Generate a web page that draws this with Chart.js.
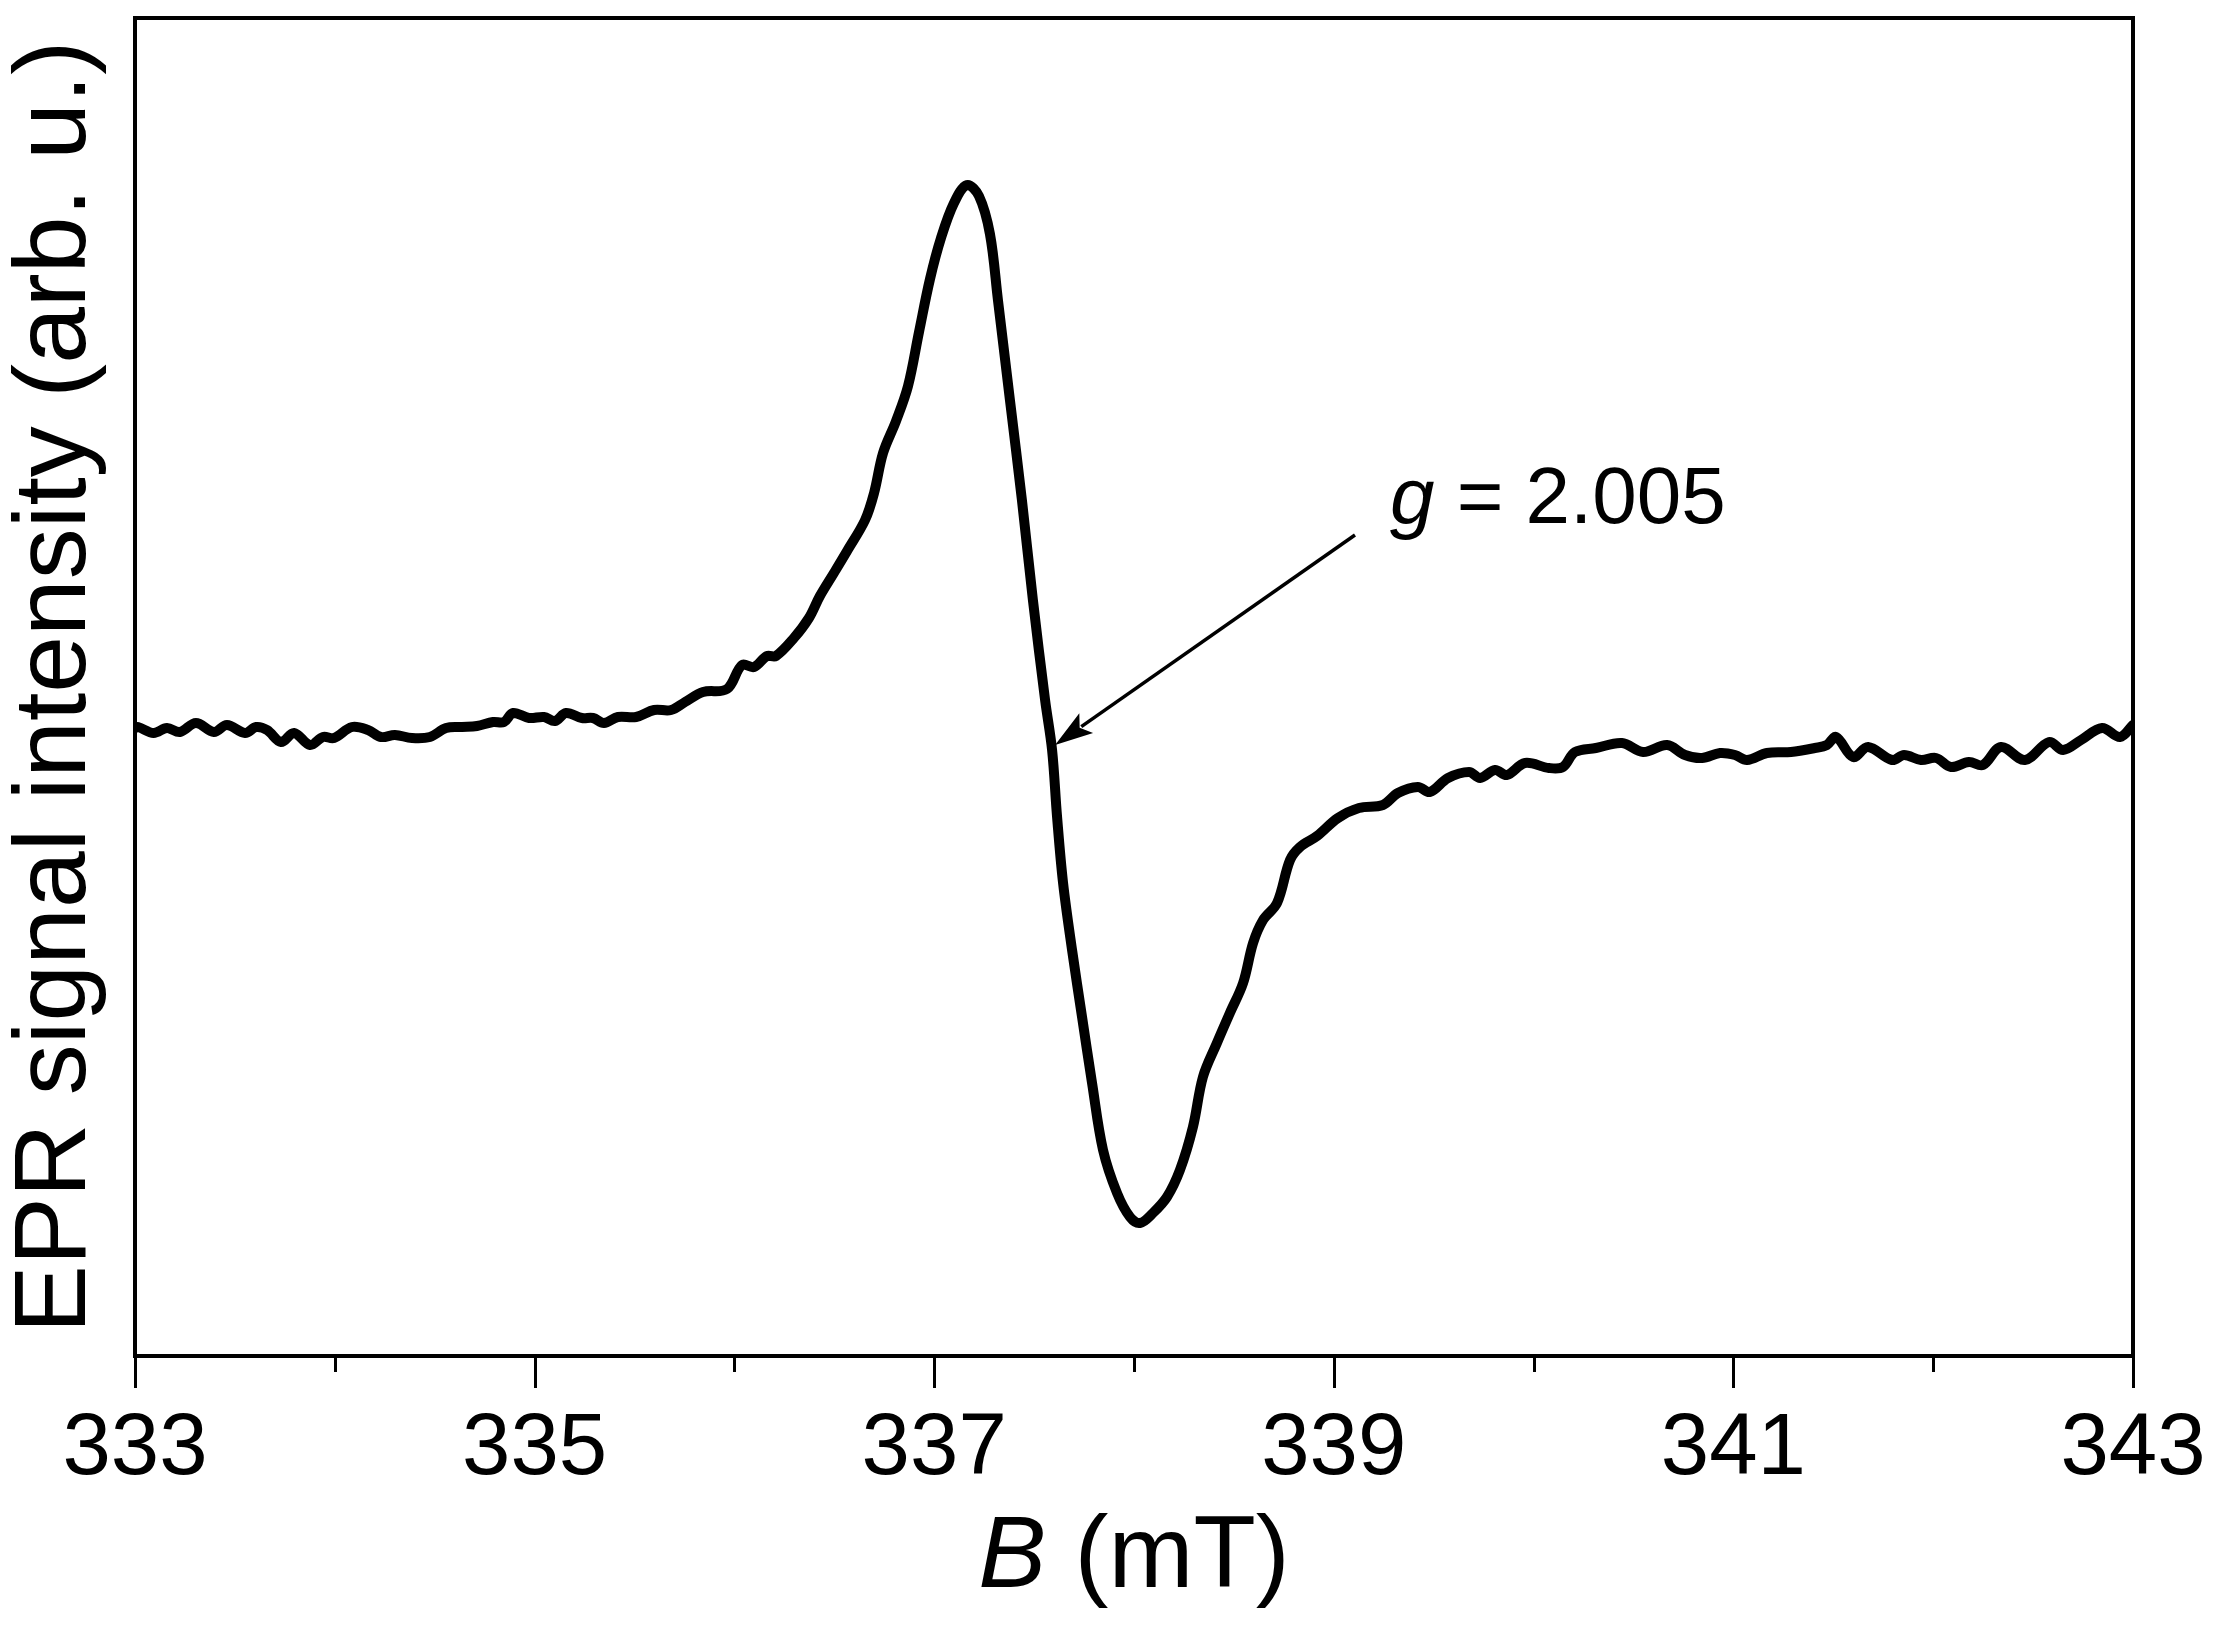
<!DOCTYPE html>
<html>
<head>
<meta charset="utf-8">
<script src="https://cdn.jsdelivr.net/npm/chart.js@4.4.1/dist/chart.umd.min.js"></script>
<style>
  html, body { margin: 0; padding: 0; background: #ffffff; }
  #wrap { width: 2228px; height: 1627px; }
  canvas { display: block; }
</style>
</head>
<body>
<div id="wrap"><canvas id="c" width="2228" height="1627" style="width:2228px;height:1627px"></canvas></div>
<script>
// ---- Data ----
const fieldB = [
  333.000, 333.015, 333.093, 333.160, 333.225, 333.305, 333.395, 333.460, 333.551, 333.606,
  333.661, 333.731, 333.796, 333.876, 333.941, 333.996, 334.086, 334.166, 334.231, 334.301,
  334.386, 334.476, 334.557, 334.637, 334.712, 334.792, 334.847, 334.892, 334.972, 335.047,
  335.102, 335.157, 335.237, 335.292, 335.347, 335.417, 335.508, 335.598, 335.683, 335.753,
  335.843, 335.963, 336.038, 336.098, 336.163, 336.208, 336.298, 336.373, 336.428, 336.498,
  336.564, 336.654, 336.699, 336.744, 336.809, 336.869, 336.924, 336.979, 337.034, 337.099,
  337.164, 337.224, 337.279, 337.319, 337.379, 337.439, 337.494, 337.555, 337.590, 337.615,
  337.645, 337.690, 337.740, 337.790, 337.845, 337.915, 337.980, 338.030, 338.095, 338.165,
  338.230, 338.295, 338.345, 338.415, 338.480, 338.546, 338.596, 338.646, 338.716, 338.781,
  338.831, 338.916, 339.021, 339.126, 339.246, 339.321, 339.421, 339.481, 339.572, 339.677,
  339.732, 339.807, 339.867, 339.957, 340.077, 340.147, 340.207, 340.312, 340.442, 340.548,
  340.668, 340.758, 340.843, 340.933, 341.008, 341.068, 341.168, 341.288, 341.408, 341.468,
  341.514, 341.599, 341.674, 341.794, 341.854, 341.939, 342.014, 342.089, 342.179, 342.249,
  342.339, 342.459, 342.580, 342.650, 342.740, 342.845, 342.935, 343.000
];
const intensity = [
  2, 3, -3, 2, -2, 7, -2, 5, -3, 3,
  0, -12, -3, -15, -7, -8, 3, 0, -7, -5,
  -8, -7, 2, 3, 4, 8, 8, 17, 12, 13,
  9, 17, 12, 12, 7, 13, 13, 20, 20, 28,
  38, 41, 65, 63, 74, 74, 92, 112, 134, 157,
  179, 210, 237, 277, 309, 344, 398, 451, 492, 527,
  545, 534, 496, 430, 330, 230, 130, 30, -20, -87,
  -153, -220, -287, -353, -420, -463, -487, -493, -483, -467,
  -440, -397, -347, -313, -283, -253, -213, -190, -173, -130,
  -117, -106, -88, -78, -75, -63, -57, -62, -48, -42,
  -48, -40, -45, -33, -38, -37, -22, -18, -13, -22,
  -15, -25, -28, -23, -25, -30, -23, -22, -18, -15,
  -7, -27, -17, -30, -25, -30, -28, -37, -32, -35,
  -17, -30, -12, -20, -10, 2, -7, 5
];
const xTickValues = [333, 334, 335, 336, 337, 338, 339, 340, 341, 342, 343];
const xLabelledTicks = [333, 335, 337, 339, 341, 343];
const xTitleItalicPart = 'B';
const xTitleRestPart = ' (mT)';
const yTitleText = 'EPR signal intensity (arb. u.)';
const annotationSymbol = 'g';
const annotationValue = ' = 2.005';

// ---- Annotation anchors (data units) ----
const annotationAnchor = { x: 339.281, y: 207 };
const arrowTail = { x: 339.106, y: 195 };
const arrowTip = { x: 337.605, y: -15 };

const FONT = '"Liberation Sans", Arial, Helvetica, sans-serif';

const extrasPlugin = {
  id: 'extras',
  afterDraw(chart) {
    const { ctx, chartArea: a, scales } = chart;
    const xs = scales.x, ys = scales.y;
    ctx.save();
    // frame
    ctx.strokeStyle = '#000';
    ctx.lineWidth = 4;
    ctx.strokeRect(a.left, a.top, a.right - a.left, a.bottom - a.top);
    // x ticks (major labelled / minor)
    ctx.lineWidth = 3;
    ctx.beginPath();
    xs.ticks.forEach(t => {
      const px = Math.round(xs.getPixelForValue(t.value)) + 0.5;
      const len = xLabelledTicks.includes(t.value) ? 32 : 16;
      ctx.moveTo(px, a.bottom);
      ctx.lineTo(px, a.bottom + len);
    });
    ctx.stroke();
    // x title: italic B + (mT)
    ctx.fillStyle = '#000';
    ctx.textBaseline = 'alphabetic';
    ctx.textAlign = 'left';
    const fItal = 'italic 102px ' + FONT, fNorm = '102px ' + FONT;
    ctx.font = fItal; const w1 = ctx.measureText(xTitleItalicPart).width;
    ctx.font = fNorm; const w2 = ctx.measureText(xTitleRestPart).width;
    const cx = (a.left + a.right) / 2;
    const by = xs.bottom - 40;
    let sx = cx - (w1 + w2) / 2;
    ctx.font = fItal; ctx.fillText(xTitleItalicPart, sx, by);
    ctx.font = fNorm; ctx.fillText(xTitleRestPart, sx + w1, by);
    // arrow
    const tx = xs.getPixelForValue(arrowTail.x), ty = ys.getPixelForValue(arrowTail.y);
    const hx = xs.getPixelForValue(arrowTip.x), hy = ys.getPixelForValue(arrowTip.y);
    const dx = tx - hx, dy = ty - hy, L = Math.hypot(dx, dy);
    const ux = dx / L, uy = dy / L;
    const headLen = 38, headHalf = 12;
    ctx.lineWidth = 3.5;
    ctx.beginPath();
    ctx.moveTo(tx, ty);
    ctx.lineTo(hx + ux * (headLen - 6), hy + uy * (headLen - 6));
    ctx.stroke();
    ctx.beginPath();
    ctx.moveTo(hx, hy);
    ctx.lineTo(hx + ux * headLen - uy * headHalf, hy + uy * headLen + ux * headHalf);
    ctx.lineTo(hx + ux * (headLen - 8), hy + uy * (headLen - 8));
    ctx.lineTo(hx + ux * headLen + uy * headHalf, hy + uy * headLen - ux * headHalf);
    ctx.closePath();
    ctx.fill();
    // annotation text
    const ax = xs.getPixelForValue(annotationAnchor.x), ay = ys.getPixelForValue(annotationAnchor.y);
    ctx.font = 'italic 80px ' + FONT;
    ctx.fillText(annotationSymbol, ax, ay);
    const gw = ctx.measureText(annotationSymbol).width;
    ctx.font = '80px ' + FONT;
    ctx.fillText(annotationValue, ax + gw, ay);
    ctx.restore();
  }
};

new Chart(document.getElementById('c'), {
  type: 'line',
  data: {
    datasets: [{
      data: fieldB.map((b, i) => ({ x: b, y: intensity[i] })),
      borderColor: '#000000',
      borderWidth: 10,
      pointRadius: 0,
      tension: 0.35,
      borderJoinStyle: 'round',
      borderCapStyle: 'round',
      fill: false
    }]
  },
  options: {
    responsive: false,
    devicePixelRatio: 1,
    animation: false,
    layout: { padding: { top: 18, right: 95, left: 0, bottom: 0 } },
    plugins: { legend: { display: false }, tooltip: { enabled: false } },
    scales: {
      x: {
        type: 'linear',
        position: 'bottom',
        min: 333,
        max: 343,
        afterFit: s => { s.height = 271; s.paddingLeft = 0; s.paddingRight = 0; },
        afterBuildTicks: s => { s.ticks = xTickValues.map(v => ({ value: v })); },
        grid: { display: false, drawTicks: false },
        border: { display: false },
        ticks: {
          autoSkip: false,
          maxRotation: 0,
          minRotation: 0,
          padding: 42,
          color: '#000',
          font: { family: FONT, size: 87 },
          callback: v => (xLabelledTicks.includes(v) ? String(v) : '')
        }
      },
      y: {
        type: 'linear',
        position: 'left',
        min: -626,
        max: 712,
        afterFit: s => { s.width = 135; s.paddingTop = 0; s.paddingBottom = 0; },
        grid: { display: false, drawTicks: false },
        border: { display: false },
        ticks: { display: false },
        title: {
          display: true,
          text: yTitleText,
          color: '#000',
          font: { family: FONT, size: 102, lineHeight: 1 },
          padding: { top: 6, bottom: 0 }
        }
      }
    }
  },
  plugins: [extrasPlugin]
});
</script>
</body>
</html>
